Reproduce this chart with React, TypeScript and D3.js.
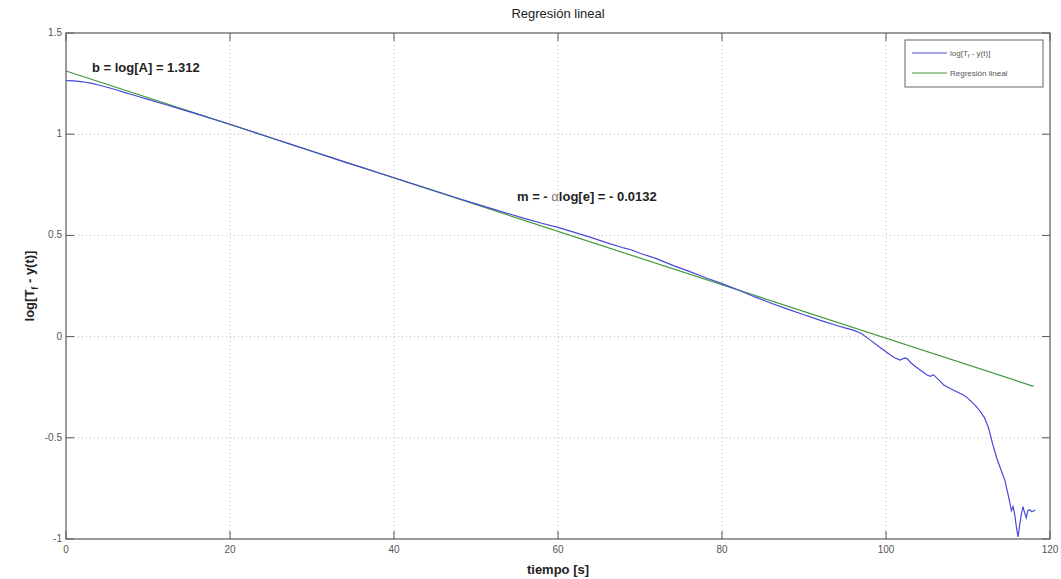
import React, { useEffect, useRef } from "react"
import * as d3 from "d3"

// tiempo [s] and log[Tf - y(t)]
const tiempo = [
  0, 1, 2, 3, 4, 5, 6, 7, 8, 9, 10, 12, 14, 16, 18, 20, 22, 24, 26, 28, 30, 32, 34, 36, 38, 40,
  42, 44, 46, 48, 50, 52, 54, 56, 58, 60, 62, 64, 66, 68, 69, 70, 72, 74, 76, 78, 80, 82, 84, 86,
  88, 90, 92, 94, 95, 96, 97, 98, 99, 100, 100.5, 101, 101.7, 102.3, 102.6, 103, 103.5, 104,
  104.5, 105, 105.4, 105.8, 106.2, 106.6, 107, 108, 109, 109.5, 110, 110.5, 111, 111.5, 112,
  112.5, 113, 113.5, 114, 114.5, 115, 115.3, 115.5, 115.7, 115.9, 116.1, 116.3, 116.5, 116.7,
  116.9, 117.1, 117.3, 117.5, 117.8, 118.2
]
const logTemp = [
  1.265, 1.263, 1.259, 1.252, 1.243, 1.232, 1.221, 1.208, 1.196, 1.184, 1.172, 1.148, 1.124,
  1.099, 1.074, 1.049, 1.022, 0.996, 0.969, 0.942, 0.916, 0.889, 0.862, 0.837, 0.811, 0.785,
  0.759, 0.733, 0.707, 0.681, 0.656, 0.631, 0.607, 0.583, 0.56, 0.54, 0.515, 0.49, 0.463, 0.438,
  0.428, 0.412, 0.385, 0.352, 0.322, 0.291, 0.262, 0.23, 0.196, 0.165, 0.136, 0.108, 0.08, 0.055,
  0.043, 0.032, 0.015, -0.015, -0.045, -0.075, -0.09, -0.103, -0.116, -0.105, -0.11, -0.128,
  -0.145, -0.16, -0.175, -0.19, -0.196, -0.188, -0.205, -0.22, -0.238, -0.26, -0.28, -0.29,
  -0.305, -0.325, -0.345, -0.37, -0.4, -0.45, -0.53, -0.6, -0.655, -0.71, -0.8, -0.86, -0.84,
  -0.88, -0.94, -0.99, -0.93, -0.88, -0.84, -0.87, -0.895, -0.86, -0.855, -0.865, -0.857
]
const intercept = 1.312
const slope = -0.0132
const fitRange = [0, 118]

const xTicks = [0, 20, 40, 60, 80, 100, 120]
const yTicks = [-1, -0.5, 0, 0.5, 1, 1.5]

const W = 1061
const H = 579
const margin = { left: 66, right: 11, top: 33, bottom: 40 }

export default function App() {
  const ref = useRef<SVGSVGElement>(null)

  useEffect(() => {
    const svg = d3.select(ref.current)
    svg.selectAll("*").remove()

    const x = d3.scaleLinear().domain([0, 120]).range([margin.left, W - margin.right])
    const y = d3.scaleLinear().domain([-1, 1.5]).range([H - margin.bottom, margin.top])
    const [x0, x1] = x.range()
    const [y0, y1] = y.range()
    const font = "Liberation Sans, Arial, sans-serif"

    svg.append("rect").attr("width", W).attr("height", H).attr("fill", "white")

    // grid
    const grid = svg.append("g").attr("stroke", "#b8b8b8").attr("stroke-width", 1)
      .attr("stroke-dasharray", "1,3")
    grid.selectAll("line.gx").data(xTicks.slice(1, -1)).join("line")
      .attr("x1", d => x(d)).attr("x2", d => x(d)).attr("y1", y1).attr("y2", y0)
    grid.selectAll("line.gy").data(yTicks.slice(1, -1)).join("line")
      .attr("class", "gy")
      .attr("y1", d => y(d)).attr("y2", d => y(d)).attr("x1", x0).attr("x2", x1)

    // tick marks on all four sides, pointing inward
    const tk = svg.append("g").attr("stroke", "#555").attr("stroke-width", 1)
    xTicks.forEach(t => {
      tk.append("line").attr("x1", x(t)).attr("x2", x(t)).attr("y1", y0).attr("y2", y0 - 8)
      tk.append("line").attr("x1", x(t)).attr("x2", x(t)).attr("y1", y1).attr("y2", y1 + 8)
    })
    yTicks.forEach(t => {
      tk.append("line").attr("y1", y(t)).attr("y2", y(t)).attr("x1", x0).attr("x2", x0 + 8)
      tk.append("line").attr("y1", y(t)).attr("y2", y(t)).attr("x1", x1).attr("x2", x1 - 8)
    })

    // tick labels
    svg.append("g").attr("font-family", font).attr("font-size", 10).attr("fill", "#555")
      .attr("text-anchor", "middle")
      .selectAll("text").data(xTicks).join("text")
      .attr("x", d => x(d)).attr("y", y0 + 14).text(d => d)
    svg.append("g").attr("font-family", font).attr("font-size", 10).attr("fill", "#555")
      .attr("text-anchor", "end")
      .selectAll("text").data(yTicks).join("text")
      .attr("x", x0 - 4).attr("y", d => y(d) + 3).text(d => d)

    // regression line
    const fit = fitRange.map(t => [t, intercept + slope * t] as [number, number])
    svg.append("path")
      .attr("d", d3.line()(fit.map(([t, v]) => [x(t), y(v)])))
      .attr("fill", "none").attr("stroke", "#3d9a3d").attr("stroke-width", 1.2)

    // data
    const pts = tiempo.map((t, i) => [x(t), y(logTemp[i])] as [number, number])
    svg.append("path")
      .attr("d", d3.line()(pts))
      .attr("fill", "none").attr("stroke", "#4848d8").attr("stroke-width", 1.2)

    // frame
    svg.append("rect").attr("x", x0).attr("y", y1).attr("width", x1 - x0).attr("height", y0 - y1)
      .attr("fill", "none").attr("stroke", "#666").attr("stroke-width", 1.3)

    // title and axis labels
    svg.append("text").attr("x", (x0 + x1) / 2).attr("y", 18).attr("text-anchor", "middle")
      .attr("font-family", font).attr("font-size", 13).attr("fill", "#222").text("Regresión lineal")
    svg.append("text").attr("x", (x0 + x1) / 2).attr("y", 574).attr("text-anchor", "middle")
      .attr("font-family", font).attr("font-size", 13).attr("font-weight", "bold").attr("fill", "#222")
      .text("tiempo [s]")
    const yl = svg.append("text")
      .attr("transform", `translate(34,${(y0 + y1) / 2}) rotate(-90)`)
      .attr("text-anchor", "middle").attr("font-family", font).attr("font-size", 13)
      .attr("font-weight", "bold").attr("fill", "#222")
    yl.append("tspan").text("log[T")
    yl.append("tspan").attr("font-size", 9).attr("dy", 4).text("f")
    yl.append("tspan").attr("dy", -4).text(" - y(t)]")

    // annotations
    svg.append("text").attr("x", 92).attr("y", 72).attr("font-family", font).attr("font-size", 13)
      .attr("font-weight", "bold").attr("fill", "#222").text("b = log[A] = 1.312")
    const m = svg.append("text").attr("x", 517).attr("y", 201).attr("font-family", font)
      .attr("font-size", 13).attr("font-weight", "bold").attr("fill", "#222")
    m.append("tspan").text("m = - ")
    m.append("tspan").attr("font-weight", "normal").attr("fill", "#777").text("α")
    m.append("tspan").text("log[e] = - 0.0132")

    // legend
    const lg = svg.append("g")
    lg.append("rect").attr("x", 905).attr("y", 40).attr("width", 138).attr("height", 47)
      .attr("fill", "white").attr("stroke", "#666").attr("stroke-width", 1)
    const items = [
      { label: "log[T", sub: "f", rest: " - y(t)]", color: "#4848d8" },
      { label: "Regresión lineal", sub: "", rest: "", color: "#3d9a3d" }
    ]
    items.forEach((it, i) => {
      const yy = 53 + i * 20
      lg.append("line").attr("x1", 912).attr("x2", 947).attr("y1", yy).attr("y2", yy)
        .attr("stroke", it.color).attr("stroke-width", 1)
      const t = lg.append("text").attr("x", 950).attr("y", yy + 3).attr("font-family", font)
        .attr("font-size", 8).attr("fill", "#555")
      t.append("tspan").text(it.label)
      if (it.sub) {
        t.append("tspan").attr("font-size", 6).attr("dy", 2).text(it.sub)
        t.append("tspan").attr("dy", -2).text(it.rest)
      }
    })
  }, [])

  return (
    <svg ref={ref} width={W} height={H}
      style={{ position: "fixed", left: 0, top: 0, display: "block" }} />
  )
}
